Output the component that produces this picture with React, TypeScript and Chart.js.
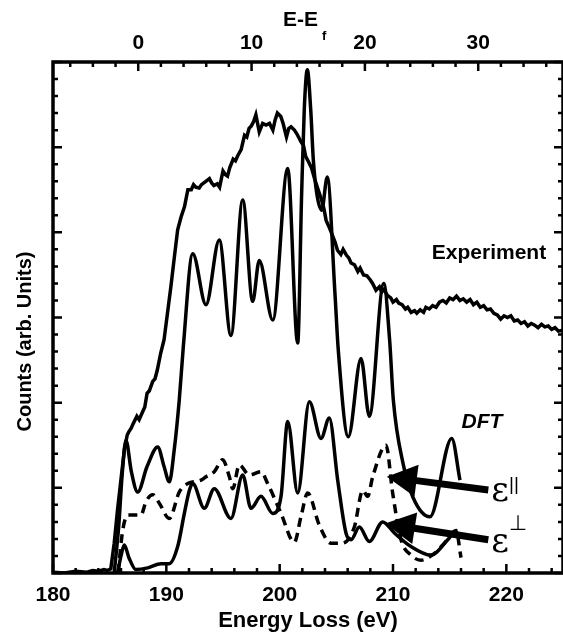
import React, { useEffect, useRef } from 'react';
import { Chart, registerables } from 'chart.js';

Chart.register(...registerables);

// ---------- DATA ----------
const bottomTicks = [180, 190, 200, 210, 220];
const topTicks = [0, 10, 20, 30];
const fermiOffset = 187.52; // E at E-Ef = 0

const expE = [180.0, 181.0, 182.0, 183.0, 183.5, 184.0, 184.5, 184.8, 185.1, 185.4, 185.7, 186.0, 186.3, 186.55, 186.7, 186.9, 187.1, 187.4, 187.6, 187.9, 188.1, 188.3, 188.5, 188.8, 189.0, 189.2, 189.5, 189.8, 190.1, 190.4, 190.7, 191.0, 191.3, 191.6, 191.9, 192.2, 192.4, 192.6, 192.9, 193.1, 193.4, 193.8, 194.0, 194.2, 194.5, 194.7, 195.0, 195.2, 195.4, 195.6, 195.9, 196.1, 196.3, 196.6, 196.9, 197.1, 197.3, 197.5, 197.7, 197.9, 198.2, 198.5, 198.8, 199.1, 199.4, 199.6, 199.8, 200.1, 200.3, 200.6, 200.8, 201.0, 201.3, 201.5, 201.9, 202.1, 202.3, 202.5, 202.8, 203.1, 203.4, 203.7, 203.9, 204.1, 204.4, 204.7, 204.9, 205.1, 205.4, 205.6, 205.9, 206.1, 206.3, 206.6, 206.9, 207.1, 207.4, 207.7, 208.0, 208.2, 208.5, 208.8, 209.0, 209.2, 209.5, 209.8, 210.0, 210.3, 210.5, 210.8, 211.1, 211.3, 211.6, 211.9, 212.1, 212.4, 212.7, 212.9, 213.2, 213.5, 213.8, 214.1, 214.4, 214.7, 215.0, 215.3, 215.6, 215.9, 216.2, 216.5, 216.8, 217.1, 217.4, 217.7, 218.0, 218.3, 218.6, 218.9, 219.2, 219.5, 219.8, 220.1, 220.4, 220.7, 221.0, 221.3, 221.6, 221.9, 222.2, 222.5, 222.8, 223.1, 223.4, 223.7, 224.0, 224.3, 224.6, 225.0];
const expY = [0.01, 0.0, 0.02, 0.01, 0.03, 0.02, 0.04, 0.03, 0.05, 0.35, 0.75, 1.1, 1.45, 1.62, 1.66, 1.70, 1.76, 1.84, 1.80, 1.89, 1.95, 2.11, 2.14, 2.25, 2.28, 2.38, 2.58, 2.74, 3.05, 3.36, 3.70, 4.03, 4.18, 4.30, 4.50, 4.50, 4.56, 4.53, 4.52, 4.56, 4.59, 4.63, 4.58, 4.55, 4.57, 4.53, 4.72, 4.68, 4.66, 4.76, 4.86, 4.84, 4.90, 4.97, 5.14, 5.12, 5.22, 5.25, 5.30, 5.38, 5.18, 5.28, 5.26, 5.28, 5.20, 5.32, 5.40, 5.36, 5.28, 5.12, 5.22, 5.24, 5.20, 5.16, 5.06, 5.02, 4.89, 4.84, 4.76, 4.62, 4.50, 4.38, 4.28, 4.14, 4.05, 3.95, 3.88, 3.79, 3.74, 3.80, 3.73, 3.70, 3.64, 3.62, 3.54, 3.58, 3.50, 3.49, 3.44, 3.40, 3.32, 3.36, 3.30, 3.33, 3.26, 3.23, 3.18, 3.21, 3.17, 3.15, 3.10, 3.12, 3.06, 3.08, 3.05, 3.09, 3.06, 3.12, 3.10, 3.14, 3.12, 3.18, 3.20, 3.17, 3.23, 3.21, 3.25, 3.20, 3.22, 3.18, 3.21, 3.15, 3.18, 3.12, 3.14, 3.09, 3.10, 3.05, 3.03, 2.98, 3.02, 3.00, 3.02, 2.96, 2.97, 2.93, 2.95, 2.90, 2.93, 2.91, 2.88, 2.92, 2.89, 2.90, 2.86, 2.88, 2.84, 2.85];

const dftE = [185.4, 185.8, 186.1, 186.44, 186.9, 187.47, 188.3, 189.24, 189.8, 190.26, 190.7, 191.14, 191.5, 192.33, 193.5, 194.67, 195.7, 196.74, 197.62, 198.2, 199.39, 200.71, 201.59, 201.94, 202.17, 202.44, 202.74, 202.97, 203.27, 203.71, 204.2, 204.88, 205.17, 206.06, 207.18, 207.91, 209.18, 209.7, 210.03, 210.88, 211.76, 213.26, 215.18, 215.91];
const dftY = [0.0, 0.55, 1.15, 1.56, 1.2, 0.95, 1.25, 1.48, 1.25, 1.07, 1.45, 2.03, 2.66, 3.75, 3.15, 3.91, 2.79, 4.38, 3.19, 3.67, 2.97, 4.75, 2.70, 4.46, 5.44, 5.91, 5.44, 4.85, 4.46, 4.26, 4.65, 3.28, 2.62, 1.60, 2.52, 1.84, 3.40, 2.74, 2.03, 1.29, 0.89, 0.66, 1.58, 1.09];

const parE = [185.74, 186.15, 186.59, 187.15, 187.76, 188.21, 188.8, 189.38, 190.26, 191.14, 191.89, 193.06, 193.5, 194.23, 194.97, 195.56, 195.86, 196.44, 197.32, 198.35, 198.94, 200.12, 201.29, 201.88, 202.47, 203.5, 204.53, 205.5, 206.59, 207.33, 207.77, 208.21, 209.38, 209.97, 210.71, 211.59, 212.47, 213.65, 214.53, 215.56, 216.0];
const parY = [0.0, 0.50, 0.68, 0.68, 0.68, 0.84, 0.92, 0.82, 0.64, 0.95, 1.05, 1.09, 1.13, 1.19, 1.33, 1.13, 0.99, 1.27, 1.15, 1.19, 1.05, 0.70, 0.36, 0.66, 0.94, 0.56, 0.35, 0.35, 0.54, 0.97, 0.90, 1.13, 1.50, 0.94, 0.39, 0.21, 0.15, 0.23, 0.35, 0.50, 0.18];

const perpE = [185.7, 186.0, 186.29, 186.7, 187.32, 188.36, 189.53, 190.26, 191.0, 191.59, 192.03, 192.33, 193.35, 194.23, 195.7, 196.74, 197.47, 198.35, 199.39, 200.12, 200.71, 201.59, 202.62, 203.65, 204.38, 205.12, 205.85, 206.3, 207.03, 207.91, 209.09, 210.12, 211.59, 213.35, 214.83, 215.41, 215.7];
const perpY = [0.0, 0.2, 0.33, 0.18, 0.04, 0.06, 0.11, 0.11, 0.31, 0.70, 0.97, 1.05, 0.76, 0.99, 0.64, 1.15, 0.76, 0.90, 0.70, 0.90, 1.78, 0.94, 2.01, 1.58, 1.82, 1.09, 0.47, 0.39, 0.54, 0.37, 0.60, 0.47, 0.31, 0.21, 0.39, 0.48, 0.50];

// ---------- STYLE ----------
const SANS = '"Liberation Sans", Arial, Helvetica, sans-serif';

const toPts = (xs: number[], ys: number[]) => xs.map((x, i) => ({ x, y: ys[i] }));

const decorPlugin = {
  id: 'decor',
  afterDraw(chart: any) {
    const { ctx, chartArea: a, scales } = chart;
    const sx = scales.x;
    const sx2 = scales.x2;
    const sy = scales.y;
    const P = (e: number, v: number) => [sx.getPixelForValue(e), sy.getPixelForValue(v)];
    ctx.save();
    ctx.strokeStyle = '#000';
    ctx.fillStyle = '#000';

    // ticks
    ctx.lineWidth = 2.5;
    ctx.beginPath();
    for (let i = 0; i <= 22; i++) {
      const v = 180 + i * 2;
      const px = sx.getPixelForValue(v);
      const len = v % 10 === 0 ? 9 : 5;
      ctx.moveTo(px, a.bottom);
      ctx.lineTo(px, a.bottom - len);
    }
    for (let i = -3; i <= 18; i++) {
      const v = i * 2;
      const px = sx2.getPixelForValue(v);
      if (px < a.left || px > a.right) continue;
      const len = v % 10 === 0 ? 9 : 5;
      ctx.moveTo(px, a.top);
      ctx.lineTo(px, a.top + len);
    }
    for (let i = 0; i <= 30; i++) {
      const py = sy.getPixelForValue(i * 0.2);
      const len = i % 5 === 0 ? 9 : 5;
      ctx.moveTo(a.left, py);
      ctx.lineTo(a.left + len, py);
      ctx.moveTo(a.right, py);
      ctx.lineTo(a.right - len, py);
    }
    ctx.stroke();

    // frame
    ctx.lineWidth = 3.5;
    ctx.strokeRect(a.left, a.top, a.right - a.left, a.bottom - a.top);

    // arrows
    const arrow = (from: number[], to: number[]) => {
      const [x1, y1] = P(from[0], from[1]);
      const [x2, y2] = P(to[0], to[1]);
      const ang = Math.atan2(y2 - y1, x2 - x1);
      const hl = 30, hw = 16;
      const bx = x2 - hl * Math.cos(ang), by = y2 - hl * Math.sin(ang);
      ctx.lineWidth = 7;
      ctx.beginPath();
      ctx.moveTo(x1, y1);
      ctx.lineTo(bx + 2 * Math.cos(ang), by + 2 * Math.sin(ang));
      ctx.stroke();
      ctx.beginPath();
      ctx.moveTo(x2, y2);
      ctx.lineTo(bx + hw * Math.sin(ang), by - hw * Math.cos(ang));
      ctx.lineTo(bx - hw * Math.sin(ang), by + hw * Math.cos(ang));
      ctx.closePath();
      ctx.fill();
    };
    arrow([218.41, 0.975], [209.45, 1.13]);
    arrow([218.41, 0.39], [209.3, 0.58]);

    // annotation texts
    ctx.textAlign = 'center';
    ctx.textBaseline = 'middle';
    ctx.font = `bold 21px ${SANS}`;
    let [tx, ty] = P(218.47, 3.757);
    ctx.fillText('Experiment', tx, ty);
    ctx.font = `italic bold 21px ${SANS}`;
    [tx, ty] = P(217.85, 1.773);
    ctx.fillText('DFT', tx, ty);

    ctx.font = `34px "DejaVu Serif", "Liberation Serif", serif`;
    [tx, ty] = P(219.44, 0.904);
    ctx.fillText('ε', tx, ty - 4);
    [tx, ty] = P(219.44, 0.305);
    ctx.fillText('ε', tx, ty - 4);
    ctx.font = `19px ${SANS}`;
    [tx, ty] = P(220.68, 1.033);
    ctx.fillText('||', tx, ty);
    ctx.font = `21px "DejaVu Sans", sans-serif`;
    [tx, ty] = P(221.03, 0.564);
    ctx.fillText('⊥', tx, ty);

    // axis titles
    const cx = (a.left + a.right) / 2;
    ctx.font = `bold 22px ${SANS}`;
    ctx.fillText('Energy Loss (eV)', cx, a.bottom + 48);

    ctx.save();
    ctx.translate(25, (a.top + a.bottom) / 2 + 24);
    ctx.rotate(-Math.PI / 2);
    ctx.font = `bold 20px ${SANS}`;
    ctx.fillText('Counts (arb. Units)', 0, 0);
    ctx.restore();

    ctx.font = `bold 21px ${SANS}`;
    ctx.textAlign = 'right';
    ctx.fillText('E-E', 318, 20);
    ctx.textAlign = 'left';
    ctx.font = `bold 13px ${SANS}`;
    ctx.fillText('f', 322, 36);

    ctx.restore();
  },
};

export default function App() {
  const ref = useRef<HTMLCanvasElement | null>(null);
  useEffect(() => {
    if (!ref.current) return;
    const line = (xs: number[], ys: number[], dashed: boolean, smooth: boolean, w: number) => ({
      data: toPts(xs, ys),
      borderColor: '#000',
      backgroundColor: '#000',
      borderWidth: w,
      borderDash: dashed ? [9, 6] : [],
      pointRadius: 0,
      fill: false,
      tension: 0,
      cubicInterpolationMode: smooth ? 'monotone' : 'default',
      xAxisID: 'x',
      yAxisID: 'y',
    });
    const tickFont = { family: SANS, size: 21, weight: 'bold' as const };
    const chart = new Chart(ref.current, {
      type: 'line',
      data: {
        datasets: [
          { label: 'Experiment', ...line(expE, expY, false, false, 3.5) },
          { label: 'DFT', ...line(dftE, dftY, false, true, 3.5) },
          { label: 'eps_par', ...line(parE, parY, true, true, 3.5) },
          { label: 'eps_perp', ...line(perpE, perpY, false, true, 3.5) },
        ] as any,
      },
      options: {
        animation: false,
        responsive: true,
        maintainAspectRatio: false,
        layout: { padding: 0 },
        plugins: { legend: { display: false }, tooltip: { enabled: false } },
        scales: {
          x: {
            type: 'linear',
            position: 'bottom',
            min: 180,
            max: 225,
            afterBuildTicks: (s: any) => { s.ticks = bottomTicks.map((v) => ({ value: v })); },
            afterFit: (s: any) => { s.height = 68; },
            grid: { display: false, drawTicks: false },
            border: { display: false },
            ticks: { font: tickFont, color: '#000', padding: 10, maxRotation: 0, autoSkip: false },
          },
          x2: {
            type: 'linear',
            position: 'top',
            min: 180 - fermiOffset,
            max: 225 - fermiOffset,
            afterBuildTicks: (s: any) => { s.ticks = topTicks.map((v) => ({ value: v })); },
            afterFit: (s: any) => { s.height = 62; },
            grid: { display: false, drawTicks: false },
            border: { display: false },
            ticks: { font: tickFont, color: '#000', padding: 6, maxRotation: 0, autoSkip: false },
          },
          y: {
            type: 'linear',
            min: 0,
            max: 6,
            afterFit: (s: any) => { s.width = 53; },
            grid: { display: false, drawTicks: false },
            border: { display: false },
            ticks: { display: false },
          },
        },
      } as any,
      plugins: [decorPlugin],
    });
    return () => chart.destroy();
  }, []);
  return (
    <div style={{ position: 'fixed', left: 0, top: 0, width: 563, height: 641, background: '#fff' }}>
      <canvas ref={ref} />
    </div>
  );
}
